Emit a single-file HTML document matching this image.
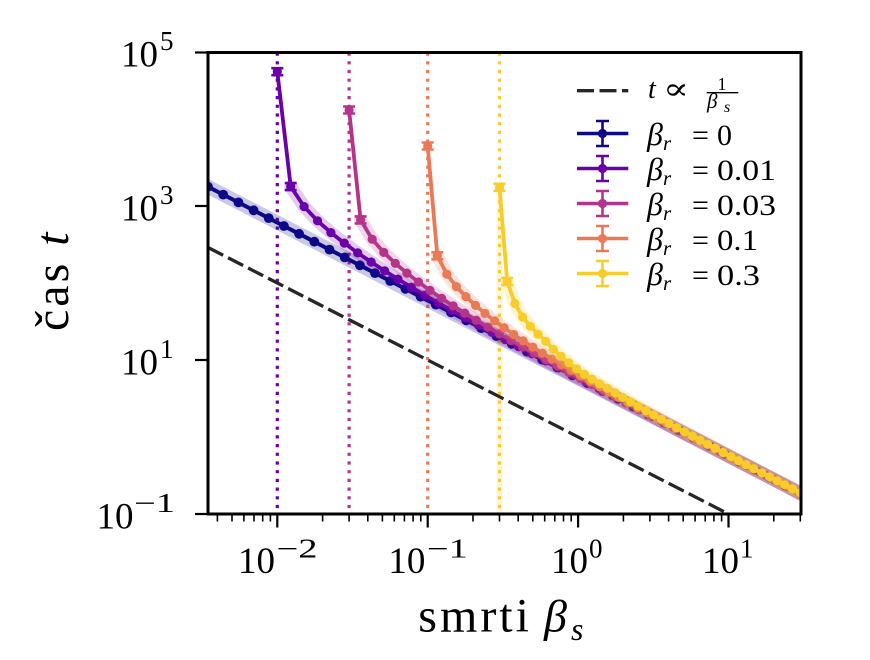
<!DOCTYPE html>
<html><head><meta charset="utf-8"><style>html,body{margin:0;padding:0;background:#fff}svg{display:block}text{font-family:"Liberation Serif","DejaVu Serif",serif;fill:#000}</style></head><body>
<svg xmlns="http://www.w3.org/2000/svg" width="870" height="660" viewBox="0 0 870 660">
<rect width="870" height="660" fill="#fff"/>
<defs>
<clipPath id="ax"><rect x="208" y="52.5" width="593" height="461.5"/></clipPath>
<marker id="m0" markerUnits="userSpaceOnUse" markerWidth="12" markerHeight="12" refX="6" refY="6" overflow="visible"><circle cx="6" cy="6" r="4.9" fill="#0d0887"/></marker>
<marker id="m1" markerUnits="userSpaceOnUse" markerWidth="12" markerHeight="12" refX="6" refY="6" overflow="visible"><circle cx="6" cy="6" r="4.6" fill="#6a00a8"/></marker>
<marker id="m2" markerUnits="userSpaceOnUse" markerWidth="12" markerHeight="12" refX="6" refY="6" overflow="visible"><circle cx="6" cy="6" r="4.6" fill="#b5348b"/></marker>
<marker id="m3" markerUnits="userSpaceOnUse" markerWidth="12" markerHeight="12" refX="6" refY="6" overflow="visible"><circle cx="6" cy="6" r="4.6" fill="#e97a55"/></marker>
<marker id="m4" markerUnits="userSpaceOnUse" markerWidth="12" markerHeight="12" refX="6" refY="6" overflow="visible"><circle cx="6" cy="6" r="4.6" fill="#f8cc2b"/></marker>
</defs>

<g clip-path="url(#ax)">
<g stroke-width="3.2" stroke-dasharray="3.2 5.5" fill="none">
<line x1="277.3" y1="52.5" x2="277.3" y2="514" stroke="#6a00a8"/>
<line x1="349.1" y1="52.5" x2="349.1" y2="514" stroke="#b5348b"/>
<line x1="427.7" y1="52.5" x2="427.7" y2="514" stroke="#e97a55"/>
<line x1="499.5" y1="52.5" x2="499.5" y2="514" stroke="#f8cc2b"/>
</g>
<rect x="496.5" y="190" width="6" height="324" fill="#f8cc2b" opacity="0.18"/>
<line x1="208" y1="247.5" x2="801" y2="551.1" stroke="#262626" stroke-width="3.3" stroke-dasharray="17 5.5"/>

<g fill="none" stroke-linejoin="round" stroke-linecap="round">
<polyline stroke="#0d0887" stroke-opacity="0.22" stroke-width="14" points="200,182.6 800.2,493.1"/>
<polyline stroke="#0d0887" stroke-width="4" marker-start="url(#m0)" marker-mid="url(#m0)" marker-end="url(#m0)" points="208.0,186.7 223.2,194.6 238.4,202.4 253.6,210.3 268.7,218.1 283.9,226.0 299.1,233.8 314.3,241.7 329.5,249.6 344.7,257.4 359.9,265.3 375.0,273.1 390.2,281.0 405.4,288.8 420.6,296.7 435.8,304.6 451.0,312.4 466.1,320.3 481.3,328.1 496.5,336.0 511.7,343.8 526.9,351.7 542.1,359.6 557.3,367.4 572.4,375.3 587.6,383.1 602.8,391.0 618.0,398.8 633.2,406.7 648.4,414.6 663.6,422.4 678.7,430.3 693.9,438.1 709.1,446.0 724.3,453.8 739.5,461.7 754.7,469.6 769.8,477.4 785.0,485.3 800.2,493.1"/>
<polyline stroke="#6a00a8" stroke-opacity="0.2" stroke-width="13" points="290.7,186.6 304.1,206.6 317.5,220.8 330.9,232.6 344.3,243.1 357.7,252.9 371.2,262.0 384.6,270.8 398.0,279.1 411.4,287.2 424.8,295.1 438.2,302.8 451.6,310.3 465.0,317.8 478.4,325.1 491.8,332.3 505.2,339.6 518.6,346.7 532.1,353.8 545.5,360.9 558.9,367.9 572.3,374.9 585.7,381.9 599.1,388.8 612.5,395.8 625.9,402.8 639.3,409.8 652.7,416.8 666.1,423.7 679.5,430.7 692.9,437.6 706.4,444.5 719.8,451.5 733.2,458.4 746.6,465.3 760.0,472.3 773.4,479.2 786.8,486.1 800.2,493.1"/>
<polyline stroke="#6a00a8" stroke-width="3.8" marker-start="url(#m1)" marker-mid="url(#m1)" marker-end="url(#m1)" points="277.3,71.7 290.7,186.6 304.1,206.6 317.5,220.8 330.9,232.6 344.3,243.1 357.7,252.9 371.2,262.0 384.6,270.8 398.0,279.1 411.4,287.2 424.8,295.1 438.2,302.8 451.6,310.3 465.0,317.8 478.4,325.1 491.8,332.3 505.2,339.6 518.6,346.7 532.1,353.8 545.5,360.9 558.9,367.9 572.3,374.9 585.7,381.9 599.1,388.8 612.5,395.8 625.9,402.8 639.3,409.8 652.7,416.8 666.1,423.7 679.5,430.7 692.9,437.6 706.4,444.5 719.8,451.5 733.2,458.4 746.6,465.3 760.0,472.3 773.4,479.2 786.8,486.1 800.2,493.1"/>
<polyline stroke="#b5348b" stroke-opacity="0.2" stroke-width="13" points="360.6,219.9 372.2,239.2 383.8,252.4 395.3,263.4 406.9,273.1 418.5,282.0 430.0,290.4 441.6,298.3 453.2,305.9 464.7,313.1 476.3,320.2 487.9,327.1 499.4,333.9 511.0,340.5 522.6,347.0 534.1,353.4 545.7,359.8 557.3,366.1 568.8,372.4 580.4,378.5 592.0,384.6 603.5,390.8 615.1,396.8 626.7,402.9 638.3,409.0 649.8,415.0 661.4,421.1 673.0,427.1 684.5,433.3 696.1,439.2 707.7,445.2 719.2,451.2 730.8,457.2 742.4,463.2 753.9,469.2 765.5,475.1 777.1,481.1 788.6,487.1 800.2,494.5"/>
<polyline stroke="#b5348b" stroke-width="3.8" marker-start="url(#m2)" marker-mid="url(#m2)" marker-end="url(#m2)" points="349.1,110.0 360.6,219.9 372.2,239.2 383.8,252.4 395.3,263.4 406.9,273.1 418.5,282.0 430.0,290.4 441.6,298.3 453.2,305.9 464.7,313.1 476.3,320.2 487.9,327.1 499.4,333.9 511.0,340.5 522.6,347.0 534.1,353.4 545.7,359.8 557.3,366.1 568.8,372.4 580.4,378.5 592.0,384.6 603.5,390.8 615.1,396.8 626.7,402.9 638.3,409.0 649.8,415.0 661.4,421.1 673.0,427.1 684.5,433.3 696.1,439.2 707.7,445.2 719.2,451.2 730.8,457.2 742.4,463.2 753.9,469.2 765.5,475.1 777.1,481.1 788.6,487.1 800.2,493.1"/>
<polyline stroke="#e97a55" stroke-opacity="0.2" stroke-width="13" points="437.3,255.8 446.8,274.1 456.4,286.6 465.9,296.6 475.5,305.4 485.0,313.4 494.6,320.9 504.1,327.7 513.7,334.5 523.2,340.9 532.8,347.1 542.3,353.1 551.9,359.0 561.4,364.8 571.0,370.4 580.5,375.9 590.1,381.4 599.6,386.8 609.2,392.1 618.7,397.4 628.3,402.7 637.8,407.8 647.4,412.9 656.9,418.0 666.5,423.1 676.0,428.2 685.6,433.2 695.1,438.3 704.7,443.2 714.2,448.2 723.8,453.2 733.3,458.2 742.9,463.2 752.4,468.2 762.0,473.1 771.5,478.1 781.1,483.0 790.6,488.0 800.2,493.1"/>
<polyline stroke="#e97a55" stroke-width="3.8" marker-start="url(#m3)" marker-mid="url(#m3)" marker-end="url(#m3)" points="427.7,146.0 437.3,255.8 446.8,274.1 456.4,286.6 465.9,296.6 475.5,305.4 485.0,313.4 494.6,320.9 504.1,327.7 513.7,334.5 523.2,340.9 532.8,347.1 542.3,353.1 551.9,359.0 561.4,364.8 571.0,370.4 580.5,375.9 590.1,381.4 599.6,386.8 609.2,392.1 618.7,397.4 628.3,402.7 637.8,407.8 647.4,412.9 656.9,418.0 666.5,423.1 676.0,428.2 685.6,433.2 695.1,438.3 704.7,443.2 714.2,448.2 723.8,453.2 733.3,458.2 742.9,463.2 752.4,468.2 762.0,473.1 771.5,478.1 781.1,483.0 790.6,488.0 800.2,493.1"/>
<polyline stroke="#f8cc2b" stroke-opacity="0.22" stroke-width="13" points="507.2,281.5 514.9,303.5 522.6,317.0 530.3,326.2 538.0,334.2 545.7,341.2 553.4,349.2 561.1,356.3 568.9,362.8 576.6,368.8 584.3,374.2 592.0,379.2 599.7,383.9 607.4,388.4 615.1,392.9 622.8,397.3 630.6,401.8 638.3,406.2 646.0,410.6 653.7,414.9 661.4,419.2 669.1,423.5 676.8,427.7 684.5,431.9 692.3,436.0 700.0,440.2 707.7,444.3 715.4,448.4 723.1,452.5 730.8,456.6 738.5,460.6 746.2,464.7 754.0,468.7 761.7,472.8 769.4,476.8 777.1,480.8 784.8,484.8 792.5,488.9 800.2,492.9"/>
<polyline stroke="#f8cc2b" stroke-width="3.8" marker-start="url(#m4)" marker-mid="url(#m4)" marker-end="url(#m4)" points="499.5,187.3 507.2,281.5 514.9,303.5 522.6,317.0 530.3,326.2 538.0,334.2 545.7,341.2 553.4,349.2 561.1,356.3 568.9,362.8 576.6,368.8 584.3,374.2 592.0,379.2 599.7,383.9 607.4,388.4 615.1,392.9 622.8,397.3 630.6,401.8 638.3,406.2 646.0,410.6 653.7,414.9 661.4,419.2 669.1,423.5 676.8,427.7 684.5,431.9 692.3,436.0 700.0,440.2 707.7,444.3 715.4,448.4 723.1,452.5 730.8,456.6 738.5,460.6 746.2,464.7 754.0,468.7 761.7,472.8 769.4,476.8 777.1,480.8 784.8,484.8 792.5,488.9 800.2,492.9"/>
</g>
<g stroke-width="2.6" fill="none">
<path stroke="#6a00a8" d="M271.3,68.2h12M271.3,75.2h12M284.7,183.1h12M284.7,190.1h12"/>
<path stroke="#b5348b" d="M343.1,106.5h12M343.1,113.5h12M354.6,216.4h12M354.6,223.4h12"/>
<path stroke="#e97a55" d="M421.7,142.5h12M421.7,149.5h12M431.3,252.3h12M431.3,259.3h12"/>
<path stroke="#f8cc2b" d="M493.5,183.8h12M493.5,190.8h12M501.2,278h12M501.2,285h12"/>
</g>
</g>

<rect x="208" y="52.5" width="593" height="461.5" fill="none" stroke="#000" stroke-width="3"/>

<g stroke="#000" stroke-width="2.2">
<line x1="277.3" y1="514" x2="277.3" y2="527.5"/>
<line x1="427.7" y1="514" x2="427.7" y2="527.5"/>
<line x1="578.1" y1="514" x2="578.1" y2="527.5"/>
<line x1="728.5" y1="514" x2="728.5" y2="527.5"/>
</g>
<path stroke="#000" stroke-width="1.6" fill="none" d="M217.4,514v7.5M232,514v7.5M243.9,514v7.5M254,514v7.5M262.7,514v7.5M270.4,514v7.5M322.6,514v7.5M349.1,514v7.5M367.8,514v7.5M382.4,514v7.5M394.3,514v7.5M404.4,514v7.5M413.1,514v7.5M420.8,514v7.5M473,514v7.5M499.5,514v7.5M518.2,514v7.5M532.8,514v7.5M544.7,514v7.5M554.8,514v7.5M563.5,514v7.5M571.2,514v7.5M623.4,514v7.5M649.9,514v7.5M668.6,514v7.5M683.2,514v7.5M695.1,514v7.5M705.2,514v7.5M713.9,514v7.5M721.6,514v7.5M773.8,514v7.5M800.3,514v7.5"/>
<g stroke="#000" stroke-width="2.2">
<line x1="195" y1="52.5" x2="208" y2="52.5"/>
<line x1="195" y1="206" x2="208" y2="206"/>
<line x1="195" y1="360" x2="208" y2="360"/>
<line x1="195" y1="514" x2="208" y2="514"/>
</g>

<g font-size="37">
<text x="238" y="573">10</text>
<text x="388.4" y="573">10</text>
<text x="551" y="573">10</text>
<text x="702" y="573">10</text>
</g>
<g font-size="27">
<text x="276.5" y="557.5" textLength="41" lengthAdjust="spacingAndGlyphs">−2</text>
<text x="426.9" y="557.5" textLength="41" lengthAdjust="spacingAndGlyphs">−1</text>
<text x="589" y="557.5">0</text>
<text x="740" y="557.5">1</text>
</g>

<g font-size="37">
<text x="121" y="66.5">10</text>
<text x="121" y="220.5">10</text>
<text x="121" y="374.5">10</text>
<text x="96.5" y="528.5">10</text>
</g>
<g font-size="27">
<text x="160" y="50">5</text>
<text x="160" y="204">3</text>
<text x="160" y="358">1</text>
<text x="134" y="512" textLength="41" lengthAdjust="spacingAndGlyphs">−1</text>
</g>

<text x="418.3" y="631.5" font-size="48" letter-spacing="3">smrti</text>
<text x="544" y="631.5" font-size="46" font-style="italic">β</text>
<text x="571" y="640" font-size="32" font-style="italic">s</text>
<text transform="translate(68,331) rotate(-90)" font-size="48" letter-spacing="3">čas <tspan font-style="italic">t</tspan></text>

<line x1="577" y1="90.7" x2="628.3" y2="90.7" stroke="#262626" stroke-width="3.3" stroke-dasharray="17 5.5"/>
<text x="648" y="98" font-size="28" font-style="italic">t</text>
<text x="663" y="99" font-size="30" textLength="26" lengthAdjust="spacingAndGlyphs">∝</text>
<text x="722" y="90" font-size="18" text-anchor="middle">1</text>
<line x1="706.7" y1="92.7" x2="738.3" y2="92.7" stroke="#000" stroke-width="1.3"/>
<text x="707" y="108" font-size="21" font-style="italic">β</text>
<text x="724" y="112" font-size="16" font-style="italic">s</text>

<g stroke-width="3.6" fill="none">
<g stroke="#0d0887"><line x1="577" y1="133.5" x2="628.3" y2="133.5"/><path stroke-width="2.6" d="M602.5,121v25M596,121h13M596,146h13"/></g>
<g stroke="#6a00a8"><line x1="577" y1="168.5" x2="628.3" y2="168.5"/><path stroke-width="2.6" d="M602.5,156v25M596,156h13M596,181h13"/></g>
<g stroke="#b5348b"><line x1="577" y1="203.5" x2="628.3" y2="203.5"/><path stroke-width="2.6" d="M602.5,191v25M596,191h13M596,216h13"/></g>
<g stroke="#e97a55"><line x1="577" y1="238.5" x2="628.3" y2="238.5"/><path stroke-width="2.6" d="M602.5,226v25M596,226h13M596,251h13"/></g>
<g stroke="#f8cc2b"><line x1="577" y1="273.5" x2="628.3" y2="273.5"/><path stroke-width="2.6" d="M602.5,261v25M596,261h13M596,286h13"/></g>
</g>
<circle cx="602.5" cy="133.5" r="4.6" fill="#0d0887"/>
<circle cx="602.5" cy="168.5" r="4.6" fill="#6a00a8"/>
<circle cx="602.5" cy="203.5" r="4.6" fill="#b5348b"/>
<circle cx="602.5" cy="238.5" r="4.6" fill="#e97a55"/>
<circle cx="602.5" cy="273.5" r="4.6" fill="#f8cc2b"/>

<g font-size="30">
<text x="647" y="145" font-size="32" font-style="italic">β</text><text x="663" y="150" font-size="21" font-style="italic">r</text><text x="692" y="145">=</text><text x="717" y="145">0</text>
<text x="647" y="180" font-size="32" font-style="italic">β</text><text x="663" y="185" font-size="21" font-style="italic">r</text><text x="692" y="180">=</text><text x="717" y="180" textLength="59" lengthAdjust="spacingAndGlyphs">0.01</text>
<text x="647" y="215" font-size="32" font-style="italic">β</text><text x="663" y="220" font-size="21" font-style="italic">r</text><text x="692" y="215">=</text><text x="717" y="215" textLength="59" lengthAdjust="spacingAndGlyphs">0.03</text>
<text x="647" y="250" font-size="32" font-style="italic">β</text><text x="663" y="255" font-size="21" font-style="italic">r</text><text x="692" y="250">=</text><text x="717" y="250" textLength="41" lengthAdjust="spacingAndGlyphs">0.1</text>
<text x="647" y="285" font-size="32" font-style="italic">β</text><text x="663" y="290" font-size="21" font-style="italic">r</text><text x="692" y="285">=</text><text x="717" y="285" textLength="43" lengthAdjust="spacingAndGlyphs">0.3</text>
</g>
</svg>
</body></html>
